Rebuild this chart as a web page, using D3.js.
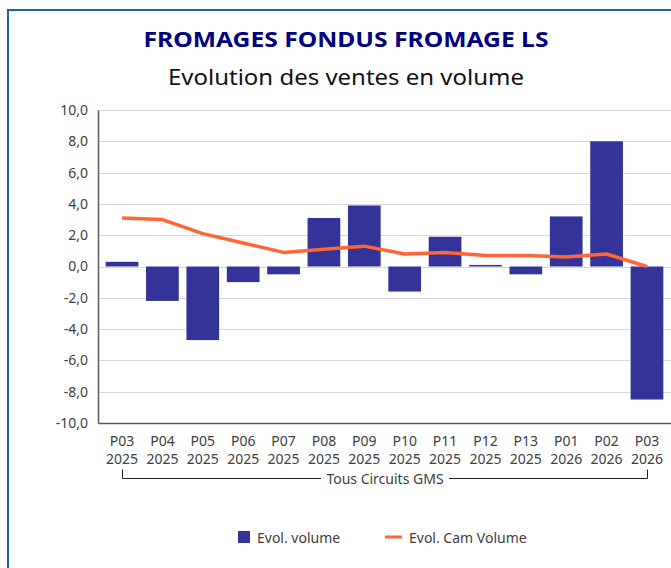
<!DOCTYPE html>
<html>
<head>
<meta charset="utf-8">
<script src="https://cdn.jsdelivr.net/npm/d3@7"></script>
<style>
  body { margin: 0; background: #fff; }
  svg { display: block; }
</style>
</head>
<body>
<svg id="chart" width="671" height="568"></svg>
<script>
// data
const periods = ["P03", "P04", "P05", "P06", "P07", "P08", "P09", "P10", "P11", "P12", "P13", "P01", "P02", "P03"];
const years = ["2025", "2025", "2025", "2025", "2025", "2025", "2025", "2025", "2025", "2025", "2025", "2026", "2026", "2026"];
const evolVolume = [0.3, -2.2, -4.7, -1.0, -0.5, 3.1, 3.9, -1.6, 1.9, 0.1, -0.5, 3.2, 8.0, -8.5];
const evolCamVolume = [3.1, 3.0, 2.1, 1.5, 0.9, 1.1, 1.3, 0.8, 0.9, 0.7, 0.7, 0.6, 0.8, 0.0];
const yTicks = [10, 8, 6, 4, 2, 0, -2, -4, -6, -8, -10];
const groupLabel = "Tous Circuits GMS";

// constants
const WIDTH = 671;
const HEIGHT = 568;
const MARGIN = { top: 110, left: 98, right: 0, bottom: 145 };
const BAR_COLOR = "#333399";
const LINE_COLOR = "#ff6633";
const TEXT_COLOR = "#404040";
const FONT = "'Noto Sans', 'Open Sans', sans-serif";
const FONT_SIZE = 14;

const svg = d3.select("#chart");
const keys = d3.range(periods.length);

// frame around the chart, cut by the window on the right and bottom
svg.append("path")
  .attr("d", `M8,${HEIGHT + 2}V10H${WIDTH + 2}`)
  .attr("fill", "none")
  .attr("stroke", "#1f5fa8")
  .attr("stroke-width", 2);

// titles
svg.append("text")
  .attr("x", 346)
  .attr("y", 47)
  .attr("text-anchor", "middle")
  .attr("font-family", "'Noto Sans', sans-serif")
  .attr("font-weight", "bold")
  .attr("font-size", 22)
  .attr("fill", "#000080")
  .attr("textLength", 405)
  .attr("lengthAdjust", "spacingAndGlyphs")
  .text("FROMAGES FONDUS FROMAGE LS");

svg.append("text")
  .attr("x", 346)
  .attr("y", 85)
  .attr("text-anchor", "middle")
  .attr("font-family", "'Noto Sans', sans-serif")
  .attr("font-size", 22)
  .attr("fill", "#111")
  .attr("textLength", 356)
  .attr("lengthAdjust", "spacingAndGlyphs")
  .text("Evolution des ventes en volume");

// scales
const x = d3.scaleBand()
  .domain(keys)
  .range([MARGIN.left, WIDTH - MARGIN.right])
  .padding(0.19);

const y = d3.scaleLinear()
  .domain([-10, 10])
  .range([HEIGHT - MARGIN.bottom, MARGIN.top]);

// gridlines
svg.append("g")
  .selectAll("line")
  .data(yTicks.filter((d) => d !== -10))
  .join("line")
  .attr("x1", MARGIN.left)
  .attr("x2", WIDTH)
  .attr("y1", (d) => Math.round(y(d)) + 0.5)
  .attr("y2", (d) => Math.round(y(d)) + 0.5)
  .attr("stroke", "#d9d9d9")
  .attr("stroke-width", 1);

// bars
svg.append("g")
  .selectAll("rect")
  .data(evolVolume)
  .join("rect")
  .attr("x", (d, i) => x(i))
  .attr("width", x.bandwidth())
  .attr("y", (d) => y(Math.max(0, d)))
  .attr("height", (d) => Math.abs(y(d) - y(0)))
  .attr("fill", BAR_COLOR);

// cumulative line
const line = d3.line()
  .x((d, i) => x(i) + x.bandwidth() / 2)
  .y((d) => y(d));

svg.append("path")
  .datum(evolCamVolume)
  .attr("d", line)
  .attr("fill", "none")
  .attr("stroke", LINE_COLOR)
  .attr("stroke-width", 3.5)
  .attr("stroke-linejoin", "round");

// y axis
const yAxis = d3.axisLeft(y)
  .tickValues(yTicks)
  .tickSize(0)
  .tickPadding(10)
  .tickFormat((d) => d3.format(".1f")(d).replace(".", ",").replace("−", "-"));

const yG = svg.append("g")
  .attr("transform", `translate(${MARGIN.left},0)`)
  .call(yAxis);
yG.select(".domain").attr("stroke", "#595959").attr("stroke-width", 1.5);
yG.selectAll("text")
  .attr("font-family", FONT)
  .attr("font-size", FONT_SIZE)
  .attr("fill", TEXT_COLOR);

// x axis baseline at -10
const xG = svg.append("g")
  .attr("transform", `translate(0,${y(-10)})`)
  .call(d3.axisBottom(x).tickSize(0).tickFormat(""));
xG.select(".domain").attr("stroke", "#595959").attr("stroke-width", 1.5);

// two-line category labels
const catLabels = svg.append("g")
  .selectAll("text")
  .data(keys)
  .join("text")
  .attr("x", (d) => x(d) + x.bandwidth() / 2)
  .attr("text-anchor", "middle")
  .attr("font-family", FONT)
  .attr("font-size", FONT_SIZE)
  .attr("fill", TEXT_COLOR);
catLabels.append("tspan")
  .attr("x", (d) => x(d) + x.bandwidth() / 2)
  .attr("y", y(-10) + 23)
  .text((d) => periods[d]);
catLabels.append("tspan")
  .attr("x", (d) => x(d) + x.bandwidth() / 2)
  .attr("y", y(-10) + 41)
  .text((d) => years[d]);

// group bracket (half-pixel offsets keep the 1px line crisp)
const bx0 = Math.round(x(0) + x.bandwidth() / 2) + 0.5;
const bx1 = Math.round(x(keys.length - 1) + x.bandwidth() / 2) + 0.5;
const bY = Math.round(y(-10) + 55) + 0.5;
const groupText = svg.append("text")
  .attr("x", 385)
  .attr("y", bY + 5)
  .attr("text-anchor", "middle")
  .attr("font-family", FONT)
  .attr("font-size", FONT_SIZE)
  .attr("fill", TEXT_COLOR)
  .text(groupLabel);
const gw = groupText.node().getComputedTextLength();
svg.append("path")
  .attr("d", `M${bx0},${bY - 9}V${bY}H${Math.round(385 - gw / 2 - 5)}M${Math.round(385 + gw / 2 + 5)},${bY}H${bx1}V${bY - 9}`)
  .attr("fill", "none")
  .attr("stroke", "#222")
  .attr("stroke-width", 1);

// legend
const legend = svg.append("g").attr("font-family", FONT).attr("font-size", FONT_SIZE).attr("fill", TEXT_COLOR);
legend.append("rect")
  .attr("x", 238).attr("y", 531).attr("width", 12).attr("height", 12)
  .attr("fill", BAR_COLOR);
legend.append("text").attr("x", 257).attr("y", 543).text("Evol. volume");
legend.append("line")
  .attr("x1", 385).attr("x2", 402).attr("y1", 537).attr("y2", 537)
  .attr("stroke", LINE_COLOR).attr("stroke-width", 3);
legend.append("text").attr("x", 409).attr("y", 543).text("Evol. Cam Volume");
</script>
</body>
</html>
